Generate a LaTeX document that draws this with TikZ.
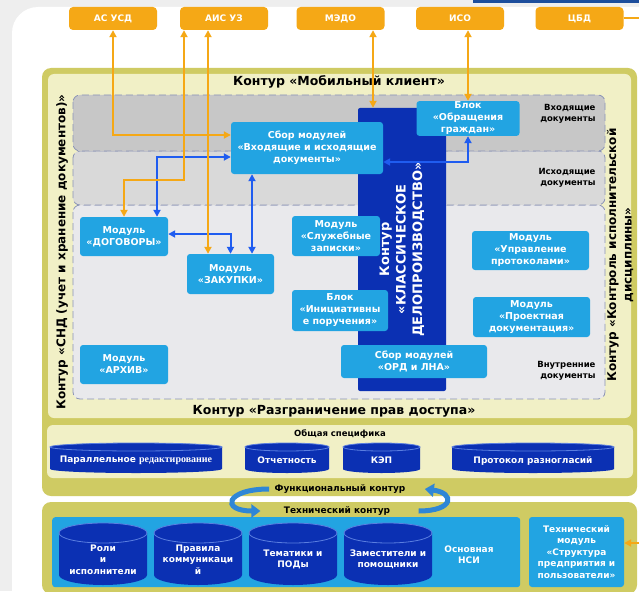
\documentclass[tikz,border=0pt]{standalone}
\usepackage{fontspec}
\setmainfont{DejaVu Sans}
\newfontfamily\serifbit{Liberation Serif}
\usetikzlibrary{positioning, arrows.meta}

\definecolor{pagegray}{HTML}{EEEEEE}
\definecolor{topbar}{HTML}{1D4E9C}
\definecolor{framecol}{HTML}{CFCB63}
\definecolor{palecol}{HTML}{F1F0C6}
\definecolor{bandA}{HTML}{C7C7C7}
\definecolor{bandB}{HTML}{D9D9D9}
\definecolor{bandC}{HTML}{E9E9EC}
\definecolor{dashcol}{HTML}{8A93B6}
\definecolor{modcol}{HTML}{22A4E2}
\definecolor{darkcol}{HTML}{0B30B3}
\definecolor{rimcol}{HTML}{5A7EE0}
\definecolor{arrblue}{HTML}{1F5CF0}
\definecolor{arrorange}{HTML}{F5A816}
\definecolor{cycblue}{HTML}{2E86D6}

% drum: name, centre x, centre y, x radius, half body, y radius, text
\newcommand{\drum}[7]{%
  \fill[darkcol] ({#2-#4},{#3-#5}) -- ({#2-#4},{#3+#5})
    arc[start angle=180, end angle=360, x radius=#4pt, y radius=#6pt] -- ({#2+#4},{#3-#5}) -- cycle;
  \filldraw[fill=darkcol, draw=rimcol, line width=0.8pt] (#2,{#3-#5}) ellipse [x radius=#4pt, y radius=#6pt];
  \node[drumtext] (#1) at (#2,{#3+#6/2+0.5}) {#7};
}

\begin{document}
\begin{tikzpicture}[
  x=1pt, y=-1pt,
  every node/.style = {font=\bfseries},
  modbox/.style = {fill=modcol, rounded corners=3pt, text=white, align=center, inner sep=1pt,
                   font=\fontsize{9.5}{12}\selectfont\bfseries},
  extbox/.style = {fill=arrorange, rounded corners=4pt, text=white, minimum width=88pt,
                   minimum height=23pt, font=\fontsize{9}{10}\selectfont\bfseries},
  band/.style = {draw=dashcol, line width=0.8pt, dash pattern=on 7pt off 4pt, rounded corners=7pt},
  drumtext/.style = {text=white, align=center, inner sep=0pt, font=\fontsize{9}{11.5}\selectfont\bfseries},
  lbl/.style = {align=right, anchor=east, font=\fontsize{8.5}{10.5}\selectfont\bfseries},
  head/.style = {align=center, font=\fontsize{12.5}{15.5}\selectfont\bfseries},
  small/.style = {font=\fontsize{9}{11}\selectfont\bfseries},
  oarr/.style = {draw=arrorange, line width=2pt, >={Triangle[length=7pt,width=7pt]}},
  barr/.style = {draw=arrblue, line width=2pt, >={Triangle[length=7pt,width=7pt]}},
  cyc/.style = {draw=cycblue, line width=5pt, -{Triangle[length=9pt,width=13pt]}}
]
\useasboundingbox (0,0) rectangle (639,591);

% page and frames
\fill[pagegray] (0,0) rectangle (639,591);
\fill[white, rounded corners=26pt] (12,7) rectangle (690,640);
\fill[topbar] (473,0) rectangle (639,3);
\fill[framecol, rounded corners=9pt] (42,68) rectangle (637,496);
\fill[palecol, rounded corners=6pt] (48,74) rectangle (631,418);
\fill[palecol, rounded corners=6pt] (47,425) rectangle (633,478);
\fill[framecol, rounded corners=9pt] (42,502) rectangle (637,594);

% document bands
\filldraw[band, fill=bandC] (73,205) rectangle (605,399);
\filldraw[band, fill=bandB] (73,151) rectangle (605,205);
\filldraw[band, fill=bandA] (73,95) rectangle (605,151);

\node[head] (mob) at (339,82) {Контур «Мобильный клиент»};
\node[head] (razgr) at (334,411) {Контур «Разграничение прав доступа»};
\node[head, font=\fontsize{12}{15.5}\selectfont\bfseries, rotate=90] (snd) at (62,252)
  {Контур «СНД (учет и хранение документов)»};
\node[head, font=\fontsize{12}{15.5}\selectfont\bfseries, rotate=90] (kid) at (620,255)
  {Контур «Контроль исполнительской\\дисциплины»};

\node[lbl] (vin) at (599,114) {Входящие\\документы};
\node[lbl] (vout) at (599,178) {Исходящие\\документы};
\node[lbl] (vint) at (599,371) {Внутренние\\документы};

% external systems
\node[extbox] (asusd) at (113,18.5) {АС УСД};
\node[extbox] (aisuz) at (224,18.5) {АИС УЗ};
\node[extbox] (medo) at (340.5,18.5) {МЭДО};
\node[extbox] (iso) at (460,18.5) {ИСО};
\node[extbox] (cbd) at (579.5,18.5) {ЦБД};

% classic records bar
\node[fill=darkcol, rounded corners=2pt, rotate=90, minimum width=283pt, minimum height=88pt,
      text=white, align=center, font=\fontsize{13}{16.5}\selectfont\bfseries]
      (bar) at (402,249.5) {Контур\\«КЛАССИЧЕСКОЕ\\ДЕЛОПРОИЗВОДСТВО»};

% modules
\node[modbox, minimum width=152pt, minimum height=52pt] (sbor) at (307,148)
  {Сбор модулей\\«Входящие и исходящие\\документы»};
\node[modbox, minimum width=103pt, minimum height=33pt] (obr) at (468,118.5)
  {Блок\\«Обращения\\граждан»};
\node[modbox, minimum width=88pt, minimum height=39pt] (dog) at (124,236.5) {Модуль\\«ДОГОВОРЫ»};
\node[modbox, minimum width=87pt, minimum height=40pt] (zak) at (230.5,274) {Модуль\\«ЗАКУПКИ»};
\node[modbox, minimum width=88pt, minimum height=39pt] (arh) at (124,364.5) {Модуль\\«АРХИВ»};
\node[modbox, minimum width=88pt, minimum height=40pt] (slu) at (336,236) {Модуль\\«Служебные\\записки»};
\node[modbox, minimum width=96pt, minimum height=41pt] (ini) at (340,310.5) {Блок\\«Инициативны\\е поручения»};
\node[modbox, minimum width=146pt, minimum height=33pt] (ord) at (414,361.5) {Сбор модулей\\«ОРД и ЛНА»};
\node[modbox, minimum width=117pt, minimum height=39pt] (upr) at (530.5,250.5) {Модуль\\«Управление\\протоколами»};
\node[modbox, minimum width=117pt, minimum height=40pt] (pro) at (531.5,317) {Модуль\\«Проектная\\документация»};

% common features
\node[font=\fontsize{8.5}{10}\selectfont\bfseries] (obsh) at (340,434) {Общая специфика};
\drum{par}{136}{458}{86}{11}{4}{Параллельное {\serifbit\fontsize{10}{11}\selectfont\bfseries редактирование}}
\drum{otch}{287}{458}{42}{11}{4}{Отчетность}
\drum{kep}{381.5}{458}{38.5}{11}{4}{КЭП}
\drum{prot}{533}{458}{81}{11}{4}{Протокол разногласий}

\node[small] (fc) at (340,489) {Функциональный контур};
\node[small] (tc) at (337,511) {Технический контур};

% technical contour
\node[fill=modcol, rounded corners=3pt, minimum width=468pt, minimum height=70pt, anchor=north west,
      inner sep=0pt] (nsi) at (52,517) {};
\node[modbox, font=\fontsize{9}{11.5}\selectfont\bfseries, minimum width=95pt, minimum height=70pt]
  (tmod) at (576.5,552) {Технический\\модуль\\«Структура\\предприятия и\\пользователи»};
\drum{roli}{103}{554}{44}{21}{10}{Роли\\и\\исполнители}
\drum{prav}{198}{554}{44}{21}{10}{Правила\\коммуникаци\\й}
\drum{tem}{293}{554}{44}{21}{10}{Тематики и\\ПОДы}
\drum{zam}{388}{554}{44}{21}{10}{Заместители и\\помощники}
\node[small, text=white, align=center] (osn) at (469,555) {Основная\\НСИ};

% connectors
\draw[barr, <->] ([yshift=-9pt]sbor.west) -| ([xshift=33pt]dog.north);     % sbor -> dogovory
\draw[barr, <->] ([xshift=-55pt]sbor.south) -- ([xshift=21.5pt]zak.north); % sbor -> zakupki
\draw[barr, <->] ([yshift=2.5pt]dog.east) -| (zak.north);
\draw[barr, <->] (obr.south) |- ([yshift=-14pt]sbor.east);
\draw[oarr, <->] (asusd.south) |- ([yshift=13pt]sbor.west);
\draw[oarr, <->] ([xshift=-40pt]aisuz.south) -- ++(0,150) -| (dog.north);
\draw[oarr, <->] ([xshift=-16pt]aisuz.south) -- ([xshift=-22.5pt]zak.north);
\draw[oarr, <->] ([xshift=32.5pt]medo.south) -- ([xshift=-29pt]bar.east); % medo -> bar
\draw[oarr, <->] ([xshift=8pt]iso.south) -- (obr.north);
\draw[oarr, ->] (cbd.east) -- ++(25,0) |- ([yshift=9pt]tmod.east);         % cbd -> structure

% functional / technical loop
\draw[cyc] ([xshift=-2pt]fc.west) .. controls +(-44,0) and +(-40,0) .. ([xshift=-20pt]tc.west);
\draw[cyc] ([xshift=25pt]tc.east) .. controls +(36,0) and +(30,4) .. ([xshift=16pt]fc.east);

\end{tikzpicture}
\end{document}
